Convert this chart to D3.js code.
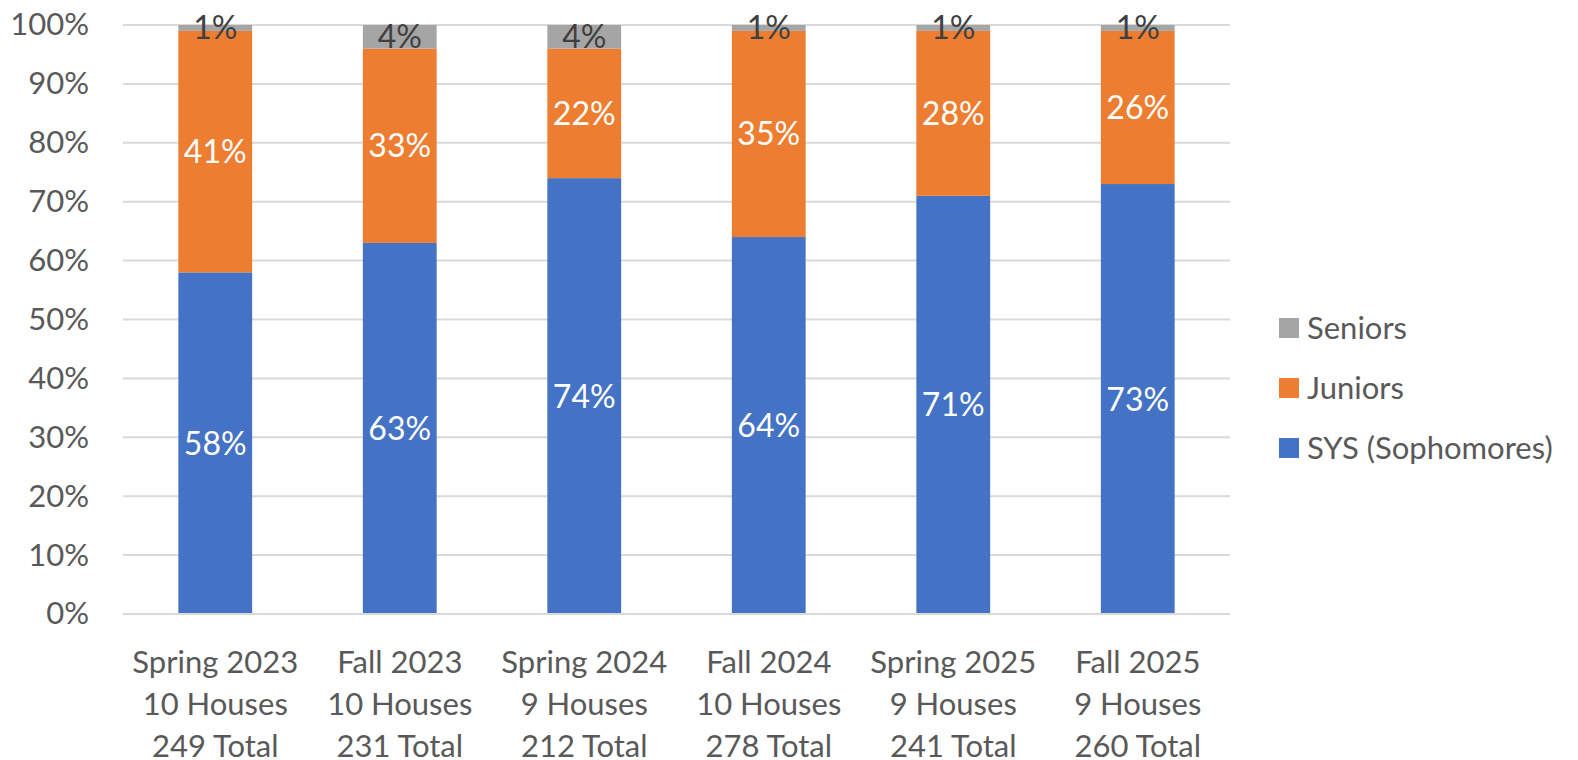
<!DOCTYPE html>
<html><head><meta charset="utf-8">
<script src="https://cdn.jsdelivr.net/npm/d3@7"></script>
<style>body{margin:0;background:#fff}svg{display:block}text{font-family:Lato,"Open Sans",sans-serif}</style>
</head><body><svg id="c" width="1578" height="760"></svg>
<script>
const categories = [
  ["Spring 2023","10 Houses","249 Total"],
  ["Fall 2023","10 Houses","231 Total"],
  ["Spring 2024","9 Houses","212 Total"],
  ["Fall 2024","10 Houses","278 Total"],
  ["Spring 2025","9 Houses","241 Total"],
  ["Fall 2025","9 Houses","260 Total"]
];
const seriesNames = ["SYS (Sophomores)","Juniors","Seniors"];
const sophomores = [58,63,74,64,71,73];
const juniors = [41,33,22,35,28,26];
const seniors = [1,4,4,1,1,1];
const yTicks = [0,10,20,30,40,50,60,70,80,90,100];
const colors = ["#4472C4","#ED7D31","#A5A5A5"];
const labelColors = ["#ffffff","#ffffff","#404040"];

const svg = d3.select("#c");
const pLeft=123, pRight=1230, pTop=25, pBottom=614;
const keys = categories.map(c=>c.join("|"));
const x = d3.scaleBand().domain(keys).range([pLeft,pRight]).paddingInner(0.6).paddingOuter(0.3);
const y = d3.scaleLinear().domain([0,100]).range([pBottom,pTop]);

const table = categories.map((c,i)=>({key:keys[i], s0:sophomores[i], s1:juniors[i], s2:seniors[i]}));
const stack = d3.stack().keys(["s0","s1","s2"])(table);

svg.append("g").selectAll("line").data(yTicks).join("line")
  .attr("x1",pLeft).attr("x2",pRight).attr("y1",d=>y(d)).attr("y2",d=>y(d))
  .attr("stroke","#D9D9D9").attr("stroke-width",2);

const yAxis = svg.append("g").attr("transform",`translate(${pLeft},0)`)
  .call(d3.axisLeft(y).tickValues(yTicks).tickFormat(d=>d+"%").tickSize(0).tickPadding(34));
yAxis.select(".domain").remove();
yAxis.selectAll("text").attr("font-size",31).attr("fill","#595959").style("font-family","Lato");

stack.forEach((layer,li)=>{
  const g = svg.append("g");
  g.selectAll("rect").data(layer).join("rect")
    .attr("x",d=>x(d.data.key)).attr("width",x.bandwidth())
    .attr("y",d=>y(d[1])).attr("height",d=>y(d[0])-y(d[1]))
    .attr("fill",colors[li]);
  g.selectAll("text").data(layer).join("text")
    .attr("x",d=>x(d.data.key)+x.bandwidth()/2)
    .attr("y",d=>(y(d[0])+y(d[1]))/2)
    .attr("dy","0.36em").attr("text-anchor","middle")
    .attr("font-size",32).attr("fill",labelColors[li])
    .text(d=>(d[1]-d[0])+"%");
});

svg.append("line").attr("x1",pLeft).attr("x2",pRight).attr("y1",y(0)).attr("y2",y(0))
  .attr("stroke","#D9D9D9").attr("stroke-width",2);

const xg = svg.append("g").attr("transform",`translate(0,${pBottom})`)
  .call(d3.axisBottom(x).tickSize(0).tickFormat(""));
xg.select(".domain").remove();
xg.selectAll(".tick").each(function(d,i){
  const t = d3.select(this).append("text").attr("text-anchor","middle")
    .attr("font-size",31).attr("fill","#595959");
  categories[i].forEach((line,j)=>{
    t.append("tspan").attr("x",0).attr("y",48+j*42).attr("dy","0.36em").text(line);
  });
});

const legendOrder = [2,1,0];
const lg = svg.append("g");
legendOrder.forEach((si,k)=>{
  const yy = 328 + k*60;
  lg.append("rect").attr("x",1279).attr("y",yy-10).attr("width",20).attr("height",20).attr("fill",colors[si]);
  lg.append("text").attr("x",1307).attr("y",yy).attr("dy","0.36em").attr("font-size",31)
    .attr("fill","#595959").text(seriesNames[si]);
});
</script></body></html>
